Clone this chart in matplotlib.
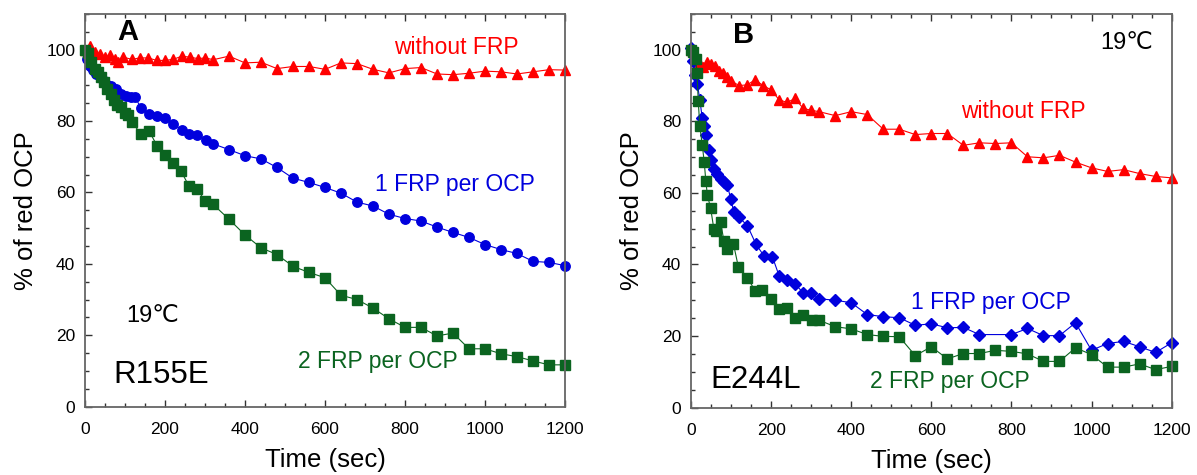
import matplotlib
matplotlib.use('Agg')
import matplotlib.pyplot as plt
from matplotlib.ticker import MultipleLocator

plt.rcParams['font.family'] = ['Liberation Sans', 'DejaVu Sans']

# ---- panel A (R155E) ----
a_red_t = [0, 12, 24, 37, 49, 62, 74, 83, 96, 117, 137, 158, 179, 200, 221, 242, 262, 283, 300, 321,
           360, 400, 440, 480, 520, 560, 600, 640, 680, 720, 760, 800, 840, 880, 920, 960, 1000,
           1040, 1080, 1120, 1160, 1200]
a_red_v = [100, 101, 99.4, 98.9, 97.9, 98.4, 97.5, 96.5, 97.9, 97.3, 97.7, 97.7, 97.0, 97.0, 97.3,
           98.2, 97.9, 97.5, 97.7, 97.2,
           98.2, 96.3, 96.5, 94.7, 95.3, 95.3, 94.5, 96.3, 96.1, 94.5, 93.5, 94.7, 95.0, 93.2,
           93.0, 93.4, 94.0, 93.8, 93.2, 93.8, 94.4, 94.3]

a_blue_t = [0, 6, 12, 20, 28, 37, 45, 53, 66, 78, 91, 103, 116, 124, 141, 161, 181, 201, 221, 242,
            261, 281, 302, 321,
            360, 400, 440, 480, 520, 560, 600, 640, 680, 720, 760, 800, 840, 880, 920, 960, 1000,
            1040, 1080, 1120, 1160, 1200]
a_blue_v = [100, 97.5, 95.5, 94.3, 93.3, 92.6, 91.5, 90.5, 89.8, 89.1, 87.7, 87.0, 86.8, 86.8, 83.6,
            82.0, 81.5, 80.8, 79.2, 77.6, 76.4, 76.1, 74.6, 73.6,
            72.0, 70.3, 69.4, 67.0, 64.0, 62.8, 61.4, 59.8, 57.3, 56.2, 53.9, 52.7, 52.0, 50.3,
            48.8, 47.4, 45.4, 44.0, 42.9, 40.7, 40.4, 39.5]

a_green_t = [0, 8, 16, 24, 32, 40, 48, 56, 64, 72, 80, 90, 100, 108, 117, 140, 160, 180, 200, 220,
             240, 260, 280, 300, 320,
             360, 400, 440, 480, 520, 560, 600, 640, 680, 720, 760, 800, 840, 880, 920, 960, 1000,
             1040, 1080, 1120, 1160, 1200]
a_green_v = [100, 99, 96.6, 94.7, 93.8, 92.4, 91.0, 89.1, 87.7, 86.0, 84.4, 84.0, 82.3, 81.6, 79.7,
             76.4, 77.3, 73.1, 70.5, 68.2, 66.0, 61.8, 61.1, 57.6, 56.7,
             52.5, 48.1, 44.5, 42.6, 39.3, 37.6, 36.1, 31.2, 30.0, 27.6, 24.6, 22.2, 22.2, 19.8,
             20.6, 16.2, 16.2, 14.8, 14.0, 12.8, 11.7, 11.7]

# ---- panel B (E244L) ----
b_red_t = [0, 6, 12, 18, 24, 30, 40, 50, 60, 70, 80, 90, 100, 120, 140, 160, 180, 200, 220, 240,
           260, 280, 300, 320,
           360, 400, 440, 480, 520, 560, 600, 640, 680, 720, 760, 800, 840, 880, 920, 960, 1000,
           1040, 1080, 1120, 1160, 1200]
b_red_v = [100, 98, 97, 96, 95.5, 95.3, 96.7, 96.0, 95.5, 94.0, 93.5, 92.5, 91.3, 90.0, 90.2, 91.6,
           90.0, 88.8, 86.0, 85.3, 86.4, 83.6, 83.1, 82.7,
           81.6, 82.7, 81.9, 77.8, 77.8, 76.3, 76.6, 76.6, 73.3, 74.0, 73.8, 74.0, 70.1, 69.8,
           70.5, 68.6, 67.0, 66.0, 66.5, 65.4, 64.6, 64.2]

b_blue_t = [0, 5, 10, 16, 22, 28, 33, 37, 45, 49, 57, 66, 74, 82, 91, 99, 107, 120, 141, 162, 182,
            203, 220, 240, 260, 280, 300, 320,
            360, 400, 440, 480, 520, 560, 600, 640, 680, 720, 800, 840, 880, 920, 960, 1000,
            1040, 1080, 1120, 1160, 1200]
b_blue_v = [100.5, 97, 93, 90.3, 86, 80.9, 78.6, 76.2, 72.0, 69.1, 66.8, 65.4, 64.0, 63.0, 62.1,
            58.3, 54.6, 53.2, 50.8, 45.7, 42.4, 42.2, 36.8, 35.7, 34.5, 32.1, 32.1, 30.4,
            30.0, 29.3, 26.0, 25.4, 25.1, 23.0, 23.4, 22.3, 22.4, 20.4, 20.4, 22.1, 20.1, 20.1,
            23.7, 16.0, 17.9, 18.5, 17.0, 15.4, 18.1]

b_green_t = [0, 5, 12, 15, 18, 22, 28, 33, 37, 41, 49, 57, 62, 74, 82, 91, 106, 118, 141, 160, 178,
             199, 220, 239, 260, 280, 301, 320,
             360, 400, 440, 480, 520, 560, 600, 640, 680, 720, 760, 800, 840, 880, 920, 960, 1000,
             1040, 1080, 1120, 1160, 1200]
b_green_v = [100, 99.5, 97.3, 93.5, 85.6, 78.6, 73.4, 68.6, 63.2, 59.3, 55.7, 49.9, 49.4, 51.8, 46.6,
             44.3, 45.7, 39.4, 36.3, 32.6, 32.9, 30.4, 27.6, 27.9, 25.1, 25.8, 24.6, 24.4,
             22.6, 22.0, 20.4, 19.9, 19.8, 14.5, 17.0, 13.6, 15.1, 15.1, 16.0, 15.7, 15.0, 12.9,
             12.9, 16.7, 14.8, 11.3, 11.3, 12.2, 10.6, 11.5]

RED = '#ff0000'
BLUE = '#0000dd'
GREEN = '#0b6420'

fig = plt.figure(figsize=(11.97, 4.75), dpi=100)
axA = fig.add_axes([0.0710, 0.1440, 0.4010, 0.8265])
axB = fig.add_axes([0.5773, 0.1420, 0.4015, 0.8285])


def style(ax):
    ax.set_xlim(0, 1200)
    ax.set_ylim(0, 110)
    ax.xaxis.set_major_locator(MultipleLocator(200))
    ax.xaxis.set_minor_locator(MultipleLocator(50))
    ax.yaxis.set_major_locator(MultipleLocator(20))
    ax.yaxis.set_minor_locator(MultipleLocator(5))
    ax.tick_params(which='both', direction='in', top=True, right=False, labelsize=12.5,
                   color='#333333')
    ax.tick_params(axis='x', pad=11)
    ax.tick_params(axis='y', pad=7)
    ax.tick_params(which='major', length=5, width=1)
    ax.tick_params(which='minor', length=3, width=1)
    for s in ax.spines.values():
        s.set_color('#666666')
        s.set_linewidth(1.3)
    ax.set_xlabel('Time (sec)', fontsize=18.5, labelpad=8)
    ax.set_ylabel('% of red OCP', fontsize=18.5, labelpad=6)


style(axA)
axA.plot(a_red_t, a_red_v, '-^', color=RED, ms=7.5, lw=0.8, clip_on=False)
axA.plot(a_blue_t, a_blue_v, '-o', color=BLUE, ms=6.8, lw=0.8, clip_on=False)
axA.plot(a_green_t, a_green_v, '-s', color=GREEN, ms=6.5, lw=0.8, clip_on=False)
axA.text(107, 105, 'A', fontsize=21, fontweight='bold', ha='center', va='center')
axA.text(929, 100.5, 'without FRP', color=RED, fontsize=16.5, ha='center', va='center')
axA.text(926, 62.3, '1 FRP per OCP', color=BLUE, fontsize=16.5, ha='center', va='center')
axA.text(733, 12.6, '2 FRP per OCP', color=GREEN, fontsize=16.5, ha='center', va='center')
axA.text(168, 25.5, '19\u2103', fontsize=17, ha='center', va='center')
axA.text(191, 8.9, 'R155E', fontsize=22.5, ha='center', va='center')

style(axB)
axB.plot(b_red_t, b_red_v, '-^', color=RED, ms=7.5, lw=0.8, clip_on=False)
axB.plot(b_blue_t, b_blue_v, '-D', color=BLUE, ms=6.5, lw=0.8, clip_on=False)
axB.plot(b_green_t, b_green_v, '-s', color=GREEN, ms=6.5, lw=0.8, clip_on=False)
axB.text(130, 104, 'B', fontsize=21, fontweight='bold', ha='center', va='center')
axB.text(1087, 101.9, '19\u2103', fontsize=17, ha='center', va='center')
axB.text(830, 82.7, 'without FRP', color=RED, fontsize=16.5, ha='center', va='center')
axB.text(750, 29.3, '1 FRP per OCP', color=BLUE, fontsize=16.5, ha='center', va='center')
axB.text(647, 7.3, '2 FRP per OCP', color=GREEN, fontsize=16.5, ha='center', va='center')
axB.text(162, 7.8, 'E244L', fontsize=22.5, ha='center', va='center')

fig.savefig('out.png', dpi=100)
